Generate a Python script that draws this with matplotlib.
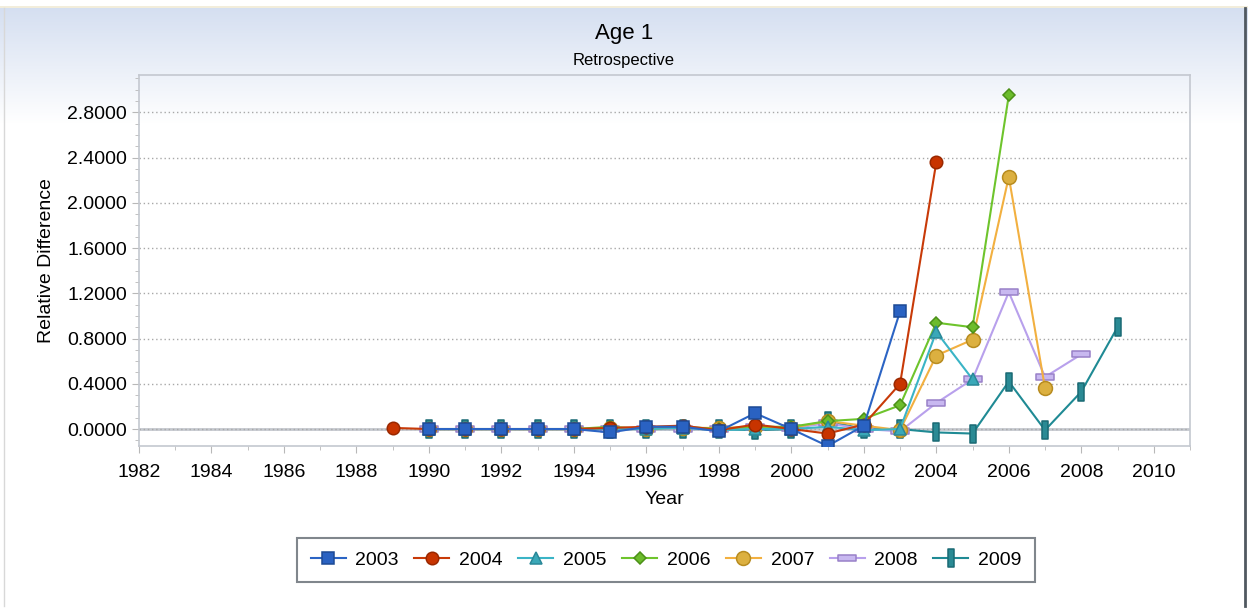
import numpy as np
import matplotlib
matplotlib.use('Agg')
import matplotlib.pyplot as plt
from matplotlib.path import Path
from matplotlib.ticker import MultipleLocator, FormatStrFormatter

plt.rcParams['font.family'] = ['Liberation Sans', 'DejaVu Sans']

# retrospective relative differences, one series per terminal year
years_2003 = list(range(1990, 2004))
vals_2003 = [0.0, 0.0, 0.0, 0.0, 0.0, -0.03, 0.02, 0.02, -0.02, 0.14, 0.0, -0.15, 0.03, 1.04]

years_2004 = list(range(1989, 2005))
vals_2004 = [0.01, 0.0, 0.0, 0.0, 0.0, 0.0, 0.01, 0.02, 0.03, -0.01, 0.04, 0.0, -0.04, 0.04, 0.40, 2.36]

years_2005 = list(range(1990, 2006))
vals_2005 = [0.0, 0.0, 0.0, 0.0, 0.0, 0.0, 0.0, 0.01, -0.01, 0.0, 0.0, 0.02, -0.01, 0.0, 0.86, 0.44]

years_2006 = list(range(1990, 2007))
vals_2006 = [0.0, 0.0, 0.0, 0.0, 0.0, 0.02, 0.0, 0.02, 0.0, 0.02, 0.02, 0.07, 0.09, 0.21, 0.94, 0.90, 2.95]

years_2007 = list(range(1990, 2008))
vals_2007 = [0.0, 0.0, 0.0, 0.0, 0.0, 0.01, 0.0, 0.01, 0.01, 0.02, 0.01, 0.07, 0.03, -0.01, 0.65, 0.79, 2.23, 0.36]

years_2008 = list(range(1990, 2009))
vals_2008 = [0.0, 0.0, 0.0, 0.0, 0.0, 0.0, 0.0, 0.0, 0.0, 0.02, 0.01, 0.05, 0.0, -0.02, 0.23, 0.44, 1.21, 0.46, 0.66]

years_2009 = list(range(1990, 2010))
vals_2009 = [0.0, 0.0, 0.0, 0.0, 0.0, 0.0, 0.0, 0.0, 0.0, -0.01, 0.0, 0.07, 0.0, 0.0, -0.03, -0.04, 0.42, -0.01, 0.33, 0.90]

labels = ['2003', '2004', '2005', '2006', '2007', '2008', '2009']

hbar = Path([(-1, -0.28), (1, -0.28), (1, 0.28), (-1, 0.28), (-1, -0.28)],
            [Path.MOVETO, Path.LINETO, Path.LINETO, Path.LINETO, Path.CLOSEPOLY])
vbar = Path([(-0.28, -1), (0.28, -1), (0.28, 1), (-0.28, 1), (-0.28, -1)],
            [Path.MOVETO, Path.LINETO, Path.LINETO, Path.LINETO, Path.CLOSEPOLY])

styles = [
    dict(color='#2b64c4', marker='s', ms=8.5, mfc='#2a62c2', mec='#1d4a95'),
    dict(color='#c83a08', marker='o', ms=9, mfc='#c83400', mec='#9a2800'),
    dict(color='#3ab4c6', marker='^', ms=9, mfc='#3aa8b8', mec='#2a8898'),
    dict(color='#6ec42c', marker='D', ms=6.5, mfc='#6cbc2c', mec='#4c9018'),
    dict(color='#f2b040', marker='o', ms=10, mfc='#dcb040', mec='#b88c20'),
    dict(color='#b8a0ec', marker=hbar, ms=13, mfc='#c8b8f0', mec='#9880c8'),
    dict(color='#1f8a94', marker=vbar, ms=13, mfc='#2a8a94', mec='#1a6a74'),
]

fig = plt.figure(figsize=(12.48, 6.09), dpi=100)

# background gradient
bg = fig.add_axes([0, 0, 1, 1], zorder=-10)
rows = 609
grad = np.arange(rows).reshape(-1, 1)
top = np.array([0.835, 0.875, 0.945])
white = np.array([1.0, 1.0, 1.0])
t = np.clip((grad - 8) / 115.0, 0, 1)
img = top * (1 - t)[..., None] + white * t[..., None]
img = img.reshape(rows, 1, 3)
img[:6] = white
img[6:8] = np.array([0.95, 0.93, 0.86])
bg.imshow(img, aspect='auto', extent=[0, 1, 0, 1], origin='upper')
bg.plot([0.9975, 0.9975], [0.987, 0.005], color='#505860', lw=2)
bg.plot([0.003, 0.003], [0.987, 0.005], color='#d8d8d8', lw=1)
bg.set_xlim(0, 1)
bg.set_ylim(0, 1)
bg.axis('off')

ax = fig.add_axes([139 / 1248, 1 - 446 / 609, (1190 - 139) / 1248, (446 - 75) / 609])
ax.patch.set_alpha(0)

all_years = [years_2003, years_2004, years_2005, years_2006, years_2007, years_2008, years_2009]
all_vals = [vals_2003, vals_2004, vals_2005, vals_2006, vals_2007, vals_2008, vals_2009]

ax.axhline(0, color='#c4c8ce', lw=2, zorder=1)
n = len(labels)
for i, (yrs, v, lab, st) in enumerate(zip(all_years, all_vals, labels, styles)):
    ax.plot(yrs, v, label=lab, lw=1.5, markeredgewidth=1.1, zorder=3 + n - i, **st)

ax.set_xlim(1982, 2011)
ax.set_ylim(-0.15, 3.13)
ax.xaxis.set_major_locator(MultipleLocator(2))
ax.xaxis.set_minor_locator(MultipleLocator(1))
ax.yaxis.set_major_locator(MultipleLocator(0.4))
ax.yaxis.set_minor_locator(MultipleLocator(0.1))
ax.yaxis.set_major_formatter(FormatStrFormatter('%.4f'))
ax.grid(axis='y', which='major', linestyle=(0, (1, 2)), color='#a8a8a8', lw=1)
ax.tick_params(axis='both', which='both', direction='out', color='#b8b8b8', labelsize=14)
ax.tick_params(which='major', length=5)
ax.tick_params(which='minor', length=3)
ax.tick_params(axis='x', which='major', pad=8)
for s in ax.spines.values():
    s.set_color('#c4c8d0')
    s.set_linewidth(1.2)

ax.set_xlabel('Year', fontsize=14, labelpad=7)
ax.set_ylabel('Relative Difference', fontsize=14, labelpad=9)

fig.text(0.5, 1 - 33 / 609, 'Age 1', ha='center', va='center', fontsize=16)
fig.text(0.5, 1 - 61 / 609, 'Retrospective', ha='center', va='center', fontsize=12)

leg = fig.legend(loc='center', bbox_to_anchor=(666 / 1248, 1 - 560 / 609), ncol=7,
                 fontsize=14, frameon=True, fancybox=False, handlelength=1.8,
                 handletextpad=0.5, columnspacing=0.8, borderpad=0.7)
leg.get_frame().set_edgecolor('#606870')
leg.get_frame().set_linewidth(1.5)

plt.savefig('out.png', dpi=100)
